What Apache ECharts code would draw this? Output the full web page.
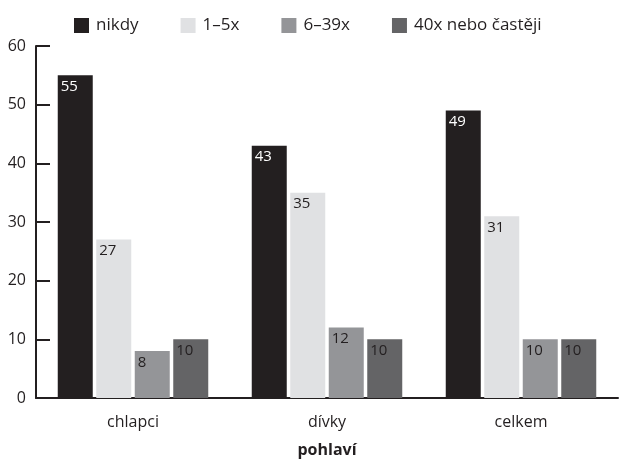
<!DOCTYPE html>
<html>
<head>
<meta charset="utf-8">
<script src="https://cdn.jsdelivr.net/npm/echarts@6/dist/echarts.min.js"></script>
<style>html,body{margin:0;padding:0;background:#fff;}#c{width:620px;height:460px;}</style>
</head>
<body>
<div id="c"></div>
<script>
const categories = ['chlapci', 'dívky', 'celkem'];
const seriesNames = ['nikdy', '1–5x', '6–39x', '40x nebo častěji'];
const nikdy = [55, 43, 49];
const x1to5 = [27, 35, 31];
const x6to39 = [8, 12, 10];
const x40plus = [10, 10, 10];
const yTicks = [0, 10, 20, 30, 40, 50, 60];
const axisName = 'pohlaví';

const colors = ['#231f20', '#e0e1e3', '#949598', '#646466'];
const labelColors = ['#ffffff', '#231f20', '#231f20', '#231f20'];
const values = [nikdy, x1to5, x6to39, x40plus];
const font = '"Open Sans", "Noto Sans", sans-serif';

const chart = echarts.init(document.getElementById('c'));
chart.setOption({
  animation: false,
  textStyle: { fontFamily: font },
  legend: {
    top: 17,
    left: 74,
    padding: 0,
    itemWidth: 15,
    itemHeight: 15,
    itemGap: 42,
    icon: 'rect',
    textStyle: { fontSize: 17, color: '#231f20', fontFamily: font, padding: [0, 0, 0, 2] },
    data: seriesNames
  },
  grid: { left: 36, right: 2, top: 46, bottom: 62, containLabel: false, outerBoundsMode: 'none' },
  xAxis: {
    type: 'category',
    data: categories,
    name: axisName,
    nameLocation: 'middle',
    nameGap: 44,
    nameTextStyle: { fontSize: 16, fontWeight: 'bold', color: '#231f20', fontFamily: font },
    axisLine: { lineStyle: { color: '#231f20', width: 2 } },
    axisTick: { inside: true, length: 5, lineStyle: { color: '#231f20', width: 1 } },
    axisLabel: { fontSize: 16, color: '#231f20', margin: 16, fontFamily: font }
  },
  yAxis: {
    type: 'value',
    min: yTicks[0],
    max: yTicks[yTicks.length - 1],
    interval: 10,
    splitLine: { show: false },
    axisLine: { show: true, lineStyle: { color: '#231f20', width: 2 } },
    axisTick: { show: true, inside: true, length: 14, lineStyle: { color: '#231f20', width: 2 } },
    axisLabel: { fontSize: 16, color: '#231f20', margin: 10, fontFamily: font }
  },
  series: seriesNames.map((name, i) => ({
    name: name,
    type: 'bar',
    data: values[i],
    barWidth: 35,
    barGap: '10%',
    itemStyle: { color: colors[i] },
    label: {
      show: true,
      position: 'insideTopLeft',
      distance: 3,
      offset: [0, 1],
      fontSize: 15,
      color: labelColors[i],
      fontFamily: font
    }
  }))
});
</script>
</body>
</html>
